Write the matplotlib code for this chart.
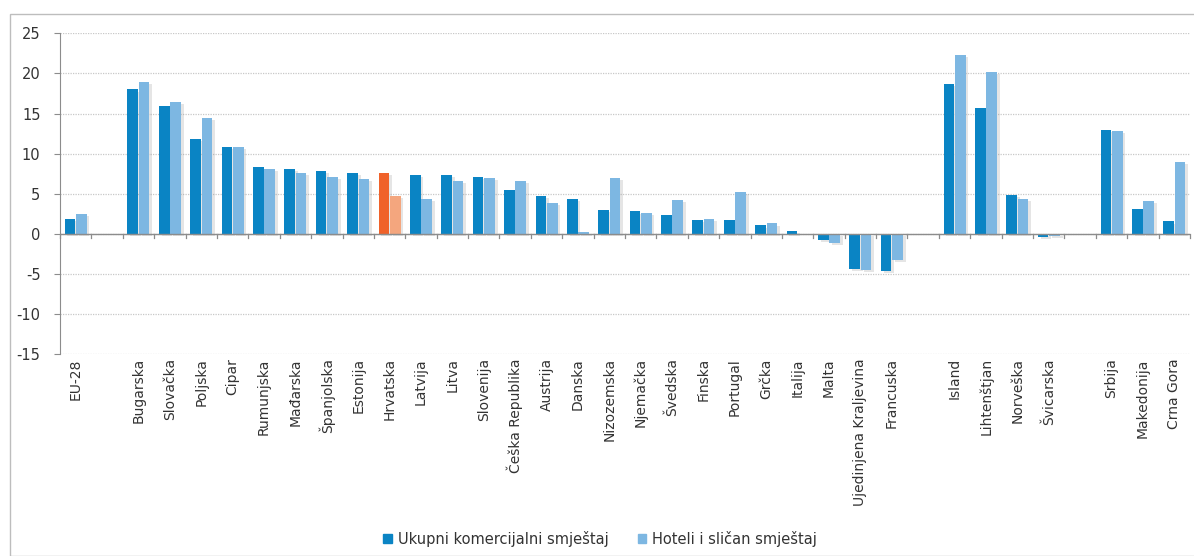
import matplotlib
matplotlib.use("Agg")
import matplotlib.pyplot as plt
import matplotlib.patches as mpatches
import matplotlib.patheffects as pe
import numpy as np

# ---- data ----
group_eu28 = ["EU-28"]
group_eu = ["Bugarska", "Slovačka", "Poljska", "Cipar", "Rumunjska", "Mađarska",
            "Španjolska", "Estonija", "Hrvatska", "Latvija", "Litva", "Slovenija",
            "Češka Republika", "Austrija", "Danska", "Nizozemska", "Njemačka",
            "Švedska", "Finska", "Portugal", "Grčka", "Italija", "Malta",
            "Ujedinjena Kraljevina", "Francuska"]
group_efta = ["Island", "Lihtenštjan", "Norveška", "Švicarska"]
group_cand = ["Srbija", "Makedonija", "Crna Gora"]

ukupni = [1.9,
          18.0, 16.0, 11.8, 10.8, 8.4, 8.1, 7.8, 7.6, 7.6, 7.3, 7.3, 7.1,
          5.5, 4.75, 4.4, 3.0, 2.8, 2.3, 1.7, 1.7, 1.05, 0.4, -0.75, -4.4, -4.6,
          18.7, 15.7, 4.8, -0.4,
          13.0, 3.1, 1.55]
hoteli = [2.5,
          18.95, 16.5, 14.4, 10.8, 8.1, 7.6, 7.1, 6.8, 4.7, 4.4, 6.6, 6.95,
          6.6, 3.9, 0.2, 6.95, 2.6, 4.2, 1.85, 5.2, 1.3, 0.05, -1.1, -4.5, -3.3,
          22.3, 20.2, 4.4, -0.3,
          12.8, 4.1, 9.0]
highlight = "Hrvatska"
yticks = [-15, -10, -5, 0, 5, 10, 15, 20, 25]
series_names = ["Ukupni komercijalni smještaj", "Hoteli i sličan smještaj"]

# ---- layout ----
groups = [group_eu28, group_eu, group_efta, group_cand]
labels, pos = [], []
p = 0
for gi, g in enumerate(groups):
    for name in g:
        labels.append(name)
        pos.append(p)
        p += 1
    p += 1  # blank slot between groups
nslots = p - 1
pos = np.array(pos, dtype=float)

c_dark = "#0A84C4"
c_light = "#7DB7E2"
c_hi_dark = "#F0622A"
c_hi_light = "#F4A67E"
txt = "#333333"

fig = plt.figure(figsize=(11.94, 5.56), dpi=100)
# outer border
fig.patches.append(mpatches.Rectangle((10/1194, 0), 1.0, 1 - 14/556, transform=fig.transFigure,
                                      fill=False, edgecolor="#BDBDBD", linewidth=1.0, zorder=0))

ax = fig.add_axes([60/1194, 1 - 354.3/556, (1190-60)/1194, (354.3-33.3)/556])
w = 0.34
gap = 0.02
shadow = [pe.SimplePatchShadow(offset=(2, -1.5), shadow_rgbFace="#999999", alpha=0.25), pe.Normal()]
for i, name in enumerate(labels):
    cd = c_hi_dark if name == highlight else c_dark
    cl = c_hi_light if name == highlight else c_light
    b1 = ax.bar(pos[i] - w/2 - gap/2, ukupni[i], width=w, color=cd, zorder=3)
    b2 = ax.bar(pos[i] + w/2 + gap/2, hoteli[i], width=w, color=cl, zorder=3)
    for b in list(b1) + list(b2):
        b.set_path_effects(shadow)

ax.set_xlim(-0.5, nslots - 0.5)
ax.set_ylim(-15, 25)
ax.set_yticks(yticks)
ax.set_yticklabels([str(v) for v in yticks], fontsize=10.5, color=txt)
for v in yticks:
    ax.axhline(v, color="#C8C8C8", linewidth=0.9, linestyle=(0, (1, 1)), zorder=1)
ax.axhline(0, color="#8C8C8C", linewidth=1.0, zorder=4)

# category boundary ticks on the zero line
for b in np.arange(-0.5, nslots, 1.0):
    ax.plot([b, b], [0, -0.45], color="#8C8C8C", linewidth=0.9, zorder=4, clip_on=False)

ax.set_xticks(pos)
ax.set_xticklabels(labels, rotation=90, fontsize=10, color=txt)
ax.tick_params(axis="x", length=0, pad=0)
ax.xaxis.set_tick_params(which="both")
for t in ax.get_xticklabels():
    t.set_y(-0.012)
ax.tick_params(axis="y", length=4, color="#8C8C8C", pad=10)

for s in ["top", "right", "bottom"]:
    ax.spines[s].set_visible(False)
ax.spines["left"].set_color("#8C8C8C")

handles = [mpatches.Patch(color=c_dark), mpatches.Patch(color=c_light)]
fig.legend(handles, series_names, loc="center", bbox_to_anchor=(600/1194, 1 - 539/556),
           ncol=2, frameon=False, fontsize=10.5, handlelength=0.6, handleheight=0.6,
           handletextpad=0.4, columnspacing=2.0, labelcolor=txt)

fig.savefig("out.png", dpi=100)
